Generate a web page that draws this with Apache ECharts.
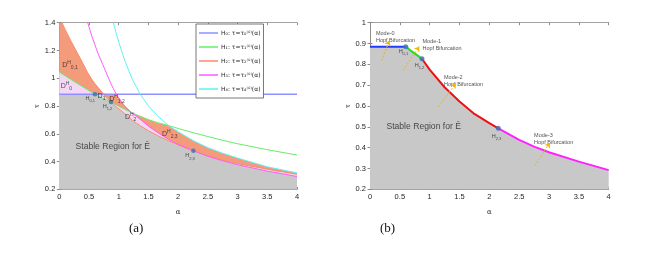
<!DOCTYPE html>
<html><head><meta charset="utf-8">
<script src="https://cdn.jsdelivr.net/npm/echarts@6/dist/echarts.min.js"></script>
<style>html,body{margin:0;padding:0;background:#fff}#c{width:649px;height:255px}</style>
</head><body><div id="c"></div><script>
// ---------- tick values ----------
const xTicks = [0, 0.5, 1, 1.5, 2, 2.5, 3, 3.5, 4];
const yTicksA = [0.2, 0.4, 0.6, 0.8, 1, 1.2, 1.4];
const yTicksB = [0.2, 0.3, 0.4, 0.5, 0.6, 0.7, 0.8, 0.9, 1];

// ---------- panel (a) curves, read at common alpha values ----------
const alphaA = [0, 0.045, 0.1, 0.2, 0.3, 0.4, 0.478, 0.55, 0.6, 0.65, 0.73, 0.755, 0.8, 0.87, 0.91, 0.96, 1.0, 1.1, 1.22, 1.3, 1.36, 1.5, 1.65, 1.835, 2.0, 2.256, 2.5, 2.75, 3.0, 3.5, 4.0];
const h0Level = 0.885;
const tau1A = [1.045, 1.032, 1.017, 0.99, 0.963, 0.937, 0.917, 0.898, 0.885, 0.873, 0.855, 0.85, 0.842, 0.828, 0.819, 0.808, 0.799, 0.777, 0.752, 0.737, 0.726, 0.702, 0.68, 0.66, 0.638, 0.607, 0.58, 0.553, 0.528, 0.485, 0.447];
const tau2A = [1.45, 1.40, 1.35, 1.265, 1.185, 1.105, 1.04, 0.99, 0.96, 0.935, 0.895, 0.885, 0.858, 0.828, 0.812, 0.793, 0.78, 0.745, 0.70, 0.675, 0.658, 0.622, 0.588, 0.55, 0.52, 0.477, 0.44, 0.41, 0.385, 0.345, 0.308];
const tau3A = [null, null, null, null, null, null, 1.40, 1.30, 1.24, 1.18, 1.10, 1.075, 1.03, 0.96, 0.925, 0.885, 0.86, 0.80, 0.752, 0.725, 0.705, 0.655, 0.61, 0.56, 0.524, 0.477, 0.438, 0.405, 0.377, 0.331, 0.292];
const tau4A = [null, null, null, null, null, null, null, null, null, null, null, null, null, null, 1.40, 1.32, 1.26, 1.13, 1.00, 0.935, 0.885, 0.80, 0.73, 0.66, 0.615, 0.55, 0.50, 0.46, 0.425, 0.362, 0.318];
const hopfPtsA = [[0.6, 0.885], [0.87, 0.828], [2.256, 0.477]];

// ---------- panel (b) stability boundary ----------
const bBlueAlpha = [0, 0.6];
const bBlueTau = [0.885, 0.885];
const bGreenAlpha = [0.6, 0.7, 0.8, 0.871];
const bGreenTau = [0.885, 0.862, 0.842, 0.827];
const bRedAlpha = [0.871, 1.0, 1.25, 1.5, 1.75, 2.0, 2.15];
const bRedTau = [0.827, 0.775, 0.69, 0.622, 0.562, 0.518, 0.493];
const bMagAlpha = [2.15, 2.5, 2.75, 3.0, 3.5, 4.0];
const bMagTau = [0.493, 0.437, 0.405, 0.378, 0.333, 0.292];
const hopfPtsB = [[0.6, 0.885], [0.871, 0.827], [2.15, 0.493]];

// ---------- legend names ----------
const legendNames = ['H₀: τ=τ₀⁽⁰⁾(α)', 'H₁: τ=τ₁⁽⁰⁾(α)', 'H₂: τ=τ₂⁽⁰⁾(α)', 'H₃: τ=τ₃⁽⁰⁾(α)', 'H₄: τ=τ₄⁽⁰⁾(α)'];

// ---------- build ----------
const yMaxA = yTicksA[yTicksA.length - 1];
const tau0A = alphaA.map(() => h0Level);
const curvesA = [tau0A, tau1A, tau2A, tau3A, tau4A];
function kth(i, k) {
  const v = curvesA.map(c => c[i] == null ? Infinity : c[i]).sort((a, b) => a - b);
  return Math.min(v[k], yMaxA);
}
function pairs(xs, ys) { const out = []; xs.forEach((x, i) => { if (ys[i] != null) out.push([x, ys[i]]); }); return out; }

const C = {
  orange: '#f39b7a', pink: '#f2d8f4', gray: '#c8c8c8',
  h0: '#8f8fff', h1: '#66ee66', h2: '#ff8a6a', h3: '#ff5cff', h4: '#5cf2f2',
  dot: '#3d6fb6', text: '#262626', axis: '#8a8a8a'
};
const fontF = 'Liberation Sans';

function area(data, color) {
  return { type: 'line', data, showSymbol: false, silent: true,
    lineStyle: { width: 0, opacity: 0 }, areaStyle: { color, opacity: 1, origin: 'start' }, z: 1, animation: false };
}
function line(name, data, color, width) {
  const s = { type: 'line', data, showSymbol: false, silent: true,
    lineStyle: { width, color }, itemStyle: { color }, z: 3, animation: false };
  if (name) s.name = name;
  return s;
}
const richA = {
  m: { fontSize: 7, color: C.text, fontFamily: fontF, lineHeight: 10 },
  u: { fontSize: 5, color: C.text, fontFamily: fontF, verticalAlign: 'top' },
  d: { fontSize: 5, color: C.text, fontFamily: fontF, verticalAlign: 'bottom' },
  h: { fontSize: 5.5, color: C.text, fontFamily: fontF, lineHeight: 9 },
  hs: { fontSize: 4, color: C.text, fontFamily: fontF, verticalAlign: 'bottom' },
  big: { fontSize: 8.6, color: C.text, fontFamily: fontF },
  mode: { fontSize: 5.5, color: C.text, fontFamily: fontF, lineHeight: 7 }
};
function labels(items) {
  return { type: 'scatter', symbolSize: 0, silent: true, z: 6, animation: false,
    label: { show: true, position: 'inside', rich: richA, color: C.text },
    data: items.map(it => ({ value: it[0], label: { formatter: it[1], align: it[2] || 'center' } })) };
}
function dots(pts, size) {
  return { type: 'scatter', symbolSize: size, silent: true, z: 5, animation: false,
    itemStyle: { color: C.dot }, data: pts };
}

const gridsPx = [
  { left: 59.3, top: 22.7, width: 237.7, height: 166.6 },
  { left: 370, top: 22.7, width: 238.7, height: 166.6 }
];
const axisLabelStyle = { fontSize: 7.5, color: C.text, fontFamily: fontF };
function xAxes(gi) {
  return [
    { gridIndex: gi, type: 'value', min: xTicks[0], max: xTicks[xTicks.length - 1], interval: xTicks[1] - xTicks[0],
      axisLine: { lineStyle: { color: C.axis, width: 0.8 } }, axisTick: { inside: true, length: 2.5, lineStyle: { color: C.axis } },
      axisLabel: Object.assign({ margin: 4 }, axisLabelStyle), splitLine: { show: false },
      name: 'α', nameLocation: 'middle', nameGap: 19, nameTextStyle: { fontSize: 7, color: C.text, fontFamily: 'DejaVu Serif' } },
    { gridIndex: gi, type: 'value', position: 'top', min: xTicks[0], max: xTicks[xTicks.length - 1], interval: xTicks[1] - xTicks[0],
      axisLine: { lineStyle: { color: C.axis, width: 0.8 } }, axisTick: { inside: true, length: 2.5, lineStyle: { color: C.axis } },
      axisLabel: { show: false }, splitLine: { show: false } }
  ];
}
function yAxes(gi, ticks) {
  const base = { gridIndex: gi, type: 'value', min: ticks[0], max: ticks[ticks.length - 1], interval: +(ticks[1] - ticks[0]).toFixed(3) };
  return [
    Object.assign({}, base, { axisLine: { show: true, lineStyle: { color: C.axis, width: 0.8 } }, axisTick: { show: true, inside: true, length: 2.5, lineStyle: { color: C.axis } },
      axisLabel: Object.assign({ margin: 4 }, axisLabelStyle), splitLine: { show: false },
      name: 'τ', nameLocation: 'middle', nameGap: 18, nameRotate: 90, nameTextStyle: { fontSize: 7, color: C.text, fontFamily: 'DejaVu Serif' } }),
    Object.assign({}, base, { position: 'right', axisLine: { show: true, lineStyle: { color: C.axis, width: 0.8 } }, axisTick: { show: true, inside: true, length: 2.5, lineStyle: { color: C.axis } },
      axisLabel: { show: false }, splitLine: { show: false } })
  ];
}
// axis indices: x: 0 bottom-a, 1 top-a, 2 bottom-b, 3 top-b ; y same
const xAxisAll = xAxes(0).concat(xAxes(1));
const yAxisAll = yAxes(0, yTicksA).concat(yAxes(1, yTicksB));

function S(s, ai) { s.xAxisIndex = ai; s.yAxisIndex = ai; return s; }

const series = [];
// panel (a)
series.push(S(area(alphaA.map((a, i) => [a, kth(i, 2)]), C.orange), 0));
series.push(S(area(alphaA.map((a, i) => [a, kth(i, 1)]), C.pink), 0));
series.push(S(area(alphaA.map((a, i) => [a, kth(i, 0)]), C.gray), 0));
series.push(S(line(legendNames[0], [[xTicks[0], h0Level], [xTicks[xTicks.length - 1], h0Level]], C.h0, 1.5), 0));
series.push(S(line(legendNames[1], pairs(alphaA, tau1A), C.h1, 1), 0));
series.push(S(line(legendNames[2], pairs(alphaA, tau2A), C.h2, 1), 0));
series.push(S(line(legendNames[3], pairs(alphaA, tau3A), C.h3, 1), 0));
series.push(S(line(legendNames[4], pairs(alphaA, tau4A), C.h4, 1), 0));
series.push(S(dots(hopfPtsA, 4.5), 0));
series.push(S(labels([
  [[0.18, 1.095], '{m|D}{u|H}{d|0,1}'],
  [[0.12, 0.944], '{m|D}{u|H}{d|0}'],
  [[0.52, 0.855], '{h|H}{hs|0,1}'],
  [[0.71, 0.868], '{m|D}{d|1}'],
  [[0.81, 0.80], '{h|H}{hs|1,2}'],
  [[0.97, 0.85], '{m|D}{u|H}{d|1,2}'],
  [[1.2, 0.72], '{m|D}{u|H}{d|2}'],
  [[1.86, 0.60], '{m|D}{u|H}{d|2,3}'],
  [[2.2, 0.44], '{h|H}{hs|2,3}'],
  [[0.9, 0.507], '{big|Stable Region for Ē}']
]), 0));
// panel (b)
series.push(S(area(pairs(bBlueAlpha, bBlueTau).concat(pairs(bGreenAlpha, bGreenTau), pairs(bRedAlpha, bRedTau), pairs(bMagAlpha, bMagTau)), C.gray), 2));
series.push(S(line(null, pairs(bBlueAlpha, bBlueTau), '#1f3cff', 2), 2));
series.push(S(line(null, pairs(bGreenAlpha, bGreenTau), '#22dd22', 2), 2));
series.push(S(line(null, pairs(bRedAlpha, bRedTau), '#ee1111', 2), 2));
series.push(S(line(null, pairs(bMagAlpha, bMagTau), '#ff22ff', 2), 2));
series.push(S(dots(hopfPtsB, 5), 2));
series.push(S(labels([
  [[0.56, 0.862], '{h|H}{hs|0,1}'],
  [[0.83, 0.793], '{h|H}{hs|1,2}'],
  [[2.12, 0.452], '{h|H}{hs|2,3}'],
  [[0.9, 0.503], '{big|Stable Region for Ē}'],
  [[0.10, 0.93], '{mode|Mode-0}\n{mode|Hopf Bifurcation}', 'left'],
  [[0.88, 0.895], '{mode|Mode-1}\n{mode|Hopf Bifurcation}', 'left'],
  [[1.24, 0.72], '{mode|Mode-2}\n{mode|Hopf Bifurcation}', 'left'],
  [[2.75, 0.444], '{mode|Mode-3}\n{mode|Hopf Bifurcation}', 'left']
]), 2));
const arrowsB = [
  [[0.196, 0.818], [0.323, 0.914]],
  [[0.557, 0.771], [0.826, 0.886]],
  [[1.148, 0.597], [1.44, 0.709]],
  [[2.763, 0.314], [3.015, 0.424]]
];
series.push({ type: 'lines', coordinateSystem: 'cartesian2d', xAxisIndex: 2, yAxisIndex: 2, silent: true, z: 7, animation: false,
  symbol: ['none', 'arrow'], symbolSize: 5,
  lineStyle: { color: '#f5b400', width: 1, type: [2, 1.5], opacity: 1 },
  data: arrowsB.map(c => ({ coords: c })) });

const chart = echarts.init(document.getElementById('c'), null, { renderer: 'canvas' });
chart.setOption({
  animation: false,
  backgroundColor: '#fff',
  grid: gridsPx,
  xAxis: xAxisAll,
  yAxis: yAxisAll,
  legend: {
    data: legendNames, left: 196, top: 24, orient: 'vertical', icon: 'rect', itemWidth: 19, itemHeight: 1.5, itemGap: 6,
    itemStyle: {}, padding: [5, 3, 5, 3], borderColor: '#555', borderWidth: 0.8, backgroundColor: '#fff', borderRadius: 0,
    textStyle: { fontSize: 6, color: C.text, fontFamily: 'DejaVu Sans', lineHeight: 8, padding: [0, 0, 0, -2] }, selectedMode: false
  },
  series,
  graphic: [
    { type: 'text', left: 129, top: 222, style: { text: '(a)', fontSize: 13, fontFamily: 'Liberation Serif', fill: '#111' } },
    { type: 'text', left: 380, top: 222, style: { text: '(b)', fontSize: 13, fontFamily: 'Liberation Serif', fill: '#111' } }
  ]
});
</script></body></html>
